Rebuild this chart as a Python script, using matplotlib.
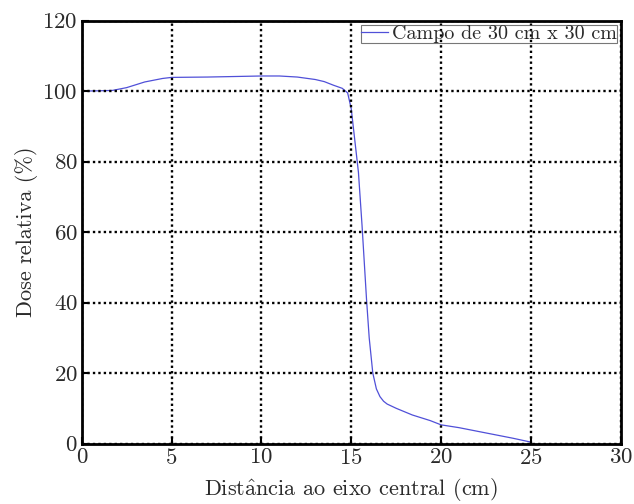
import matplotlib
matplotlib.use("Agg")
import matplotlib.pyplot as plt
import numpy as np

plt.rcParams['font.family'] = ['cmr10', 'DejaVu Serif']
plt.rcParams['mathtext.fontset'] = 'cm'
plt.rcParams['axes.formatter.use_mathtext'] = True

distance_cm = [0, 1.0, 1.7, 2.5, 3.5, 4.5, 5.0, 7.0, 10.0, 11.0, 12.0, 13.0, 13.5,
               14.0, 14.5, 14.8, 15.0, 15.2, 15.4, 15.6, 15.85, 16.0, 16.2, 16.4,
               16.6, 16.8, 17.0, 17.5, 18.4, 19.4, 20.0, 21.0, 22.0, 23.0, 24.0, 25.0]
dose_pct = [100.0, 100.1, 100.2, 101.0, 102.6, 103.6, 103.9, 104.0, 104.3, 104.3, 104.0,
            103.3, 102.7, 101.7, 100.8, 99.5, 95.0, 86.0, 77.0, 62.0, 41.0, 30.0, 20.0,
            15.5, 13.3, 12.0, 11.2, 10.0, 8.1, 6.5, 5.3, 4.5, 3.5, 2.5, 1.5, 0.4]
legend_label = "Campo de 30 cm x 30 cm"
x_ticks = [0, 5, 10, 15, 20, 25, 30]
y_ticks = [0, 20, 40, 60, 80, 100, 120]
x_label = r"Dist$\mathrm{\hat{a}}$ncia ao eixo central (cm)"
y_label = "Dose relativa (%)"

text_color = '#2a2a2a'

fig = plt.figure(figsize=(6.34, 5.04), dpi=100)
ax = fig.add_axes([0.129, 0.12, 0.850, 0.839])

ax.plot(distance_cm, dose_pct, color='#5050d8', lw=0.9, label=legend_label)

ax.set_xlim(0, 30)
ax.set_ylim(0, 120)
ax.set_xticks(x_ticks)
ax.set_yticks(y_ticks)
ax.grid(True, color='black', linestyle=(0, (1, 1.3)), linewidth=1.7)
ax.set_axisbelow(False)

for s in ax.spines.values():
    s.set_linewidth(2.0)
ax.tick_params(direction='in', length=5, width=1.5, labelsize=16.5, colors='black',
               labelcolor=text_color, pad=3)

ax.set_xlabel(x_label, fontsize=16, color=text_color, labelpad=6)
ax.set_ylabel(y_label, fontsize=16, color=text_color, labelpad=3)

leg = ax.legend(loc='upper right', fontsize=14.5, frameon=True, fancybox=False,
                facecolor='none', edgecolor='#555555', borderpad=0.0, handlelength=1.3,
                handletextpad=0.2, borderaxespad=0.2, framealpha=None)
leg.get_frame().set_linewidth(0.8)
for t in leg.get_texts():
    t.set_color(text_color)

fig.savefig("out.png", dpi=100)
